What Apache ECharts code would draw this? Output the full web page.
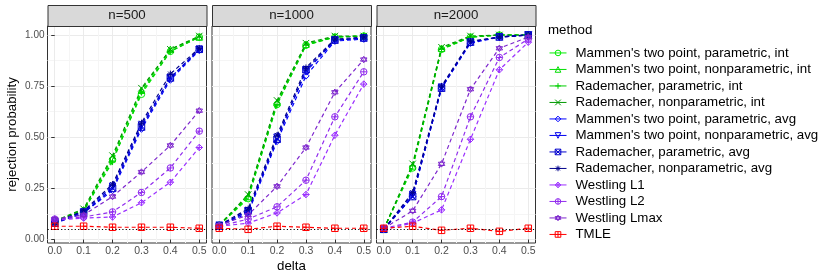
<!DOCTYPE html>
<html><head><meta charset="utf-8">
<script src="https://cdn.jsdelivr.net/npm/echarts@6/dist/echarts.min.js"></script>
<style>html,body{margin:0;padding:0;background:#fff}#c{width:830px;height:277px}</style>
</head><body><div id="c"></div>
<script>
// ---------- data ----------
const deltas = [0, 0.1, 0.2, 0.3, 0.4, 0.5];
const panels = ['n=500', 'n=1000', 'n=2000'];
const methods = [
  "Mammen's two point, parametric, int",
  "Mammen's two point, nonparametric, int",
  "Rademacher, parametric, int",
  "Rademacher, nonparametric, int",
  "Mammen's two point, parametric, avg",
  "Mammen's two point, nonparametric, avg",
  "Rademacher, parametric, avg",
  "Rademacher, nonparametric, avg",
  "Westling L1",
  "Westling L2",
  "Westling Lmax",
  "TMLE"
];
// each: [n=500, n=1000, n=2000], values at deltas
const mammenParInt    = [[0.085,0.14,0.39,0.71,0.92,0.99],[0.07,0.20,0.66,0.95,0.99,0.995],[0.05,0.35,0.93,0.99,1.0,1.0]];
const mammenNonparInt = [[0.09,0.145,0.40,0.73,0.93,0.99],[0.07,0.21,0.67,0.955,0.99,0.995],[0.05,0.36,0.935,0.99,1.0,1.0]];
const radParInt       = [[0.085,0.14,0.38,0.72,0.92,0.99],[0.07,0.21,0.66,0.95,0.99,0.995],[0.05,0.36,0.93,0.99,1.0,1.0]];
const radNonparInt    = [[0.09,0.15,0.41,0.74,0.93,0.995],[0.07,0.22,0.68,0.96,0.995,0.995],[0.05,0.37,0.94,0.995,1.0,1.0]];
const mammenParAvg    = [[0.08,0.13,0.24,0.54,0.78,0.925],[0.065,0.13,0.48,0.80,0.97,0.98],[0.05,0.21,0.74,0.96,0.99,1.0]];
const mammenNonparAvg = [[0.085,0.135,0.26,0.56,0.79,0.93],[0.07,0.14,0.50,0.82,0.975,0.985],[0.05,0.22,0.745,0.965,0.99,1.0]];
const radParAvg       = [[0.08,0.13,0.25,0.55,0.79,0.93],[0.065,0.14,0.49,0.83,0.975,0.985],[0.05,0.21,0.74,0.965,0.99,1.0]];
const radNonparAvg    = [[0.085,0.14,0.27,0.57,0.81,0.935],[0.07,0.15,0.51,0.84,0.98,0.99],[0.05,0.23,0.75,0.97,0.99,1.0]];
const westlingL1      = [[0.095,0.105,0.11,0.18,0.28,0.45],[0.065,0.08,0.13,0.22,0.51,0.76],[0.05,0.08,0.145,0.49,0.83,0.965]];
const westlingL2      = [[0.10,0.11,0.135,0.23,0.35,0.53],[0.065,0.10,0.16,0.29,0.60,0.82],[0.055,0.085,0.21,0.60,0.89,0.98]];
const westlingLmax    = [[0.10,0.12,0.21,0.33,0.46,0.63],[0.07,0.12,0.26,0.45,0.72,0.88],[0.055,0.14,0.37,0.735,0.935,0.99]];
const tmle            = [[0.065,0.065,0.06,0.06,0.06,0.055],[0.055,0.05,0.065,0.06,0.055,0.055],[0.055,0.065,0.045,0.055,0.04,0.055]];
const nominalLevel = 0.05;

const xMajorTicks = [0, 0.1, 0.2, 0.3, 0.4, 0.5];
const xMinorTicks = [0.05, 0.15, 0.25, 0.35, 0.45];
const yMajorTicks = [0, 0.25, 0.5, 0.75, 1];
const yMinorTicks = [0.125, 0.375, 0.625, 0.875];

// ---------- styles ----------
const methodValues = [mammenParInt, mammenNonparInt, radParInt, radNonparInt,
  mammenParAvg, mammenNonparAvg, radParAvg, radNonparAvg,
  westlingL1, westlingL2, westlingLmax, tmle];
const methodColors = ['#00EE00','#00DD00','#00CD00','#009A00',
  '#0000FF','#0000EE','#0000CD','#00008B',
  '#9B30FF','#912CEE','#7D26CD','#FF0000'];
const methodSymbols = [
  'path://M5,0A5,5,0,1,1,5,10A5,5,0,1,1,5,0Z',
  'path://M5,0L10,9L0,9Z',
  'path://M5,0L5,10M0,5L10,5',
  'path://M0,0L10,10M10,0L0,10',
  'path://M5,0L10,5L5,10L0,5Z',
  'path://M0,1L10,1L5,10Z',
  'path://M0,0L10,0L10,10L0,10ZM0,0L10,10M10,0L0,10',
  'path://M5,0L5,10M0,5L10,5M1.5,1.5L8.5,8.5M8.5,1.5L1.5,8.5',
  'path://M5,0L10,5L5,10L0,5ZM5,0L5,10M0,5L10,5',
  'path://M5,0A5,5,0,1,1,5,10A5,5,0,1,1,5,0ZM5,0L5,10M0,5L10,5',
  'path://M5,0L9.33,7.5L0.67,7.5ZM5,10L9.33,2.5L0.67,2.5Z',
  'path://M0,0L10,0L10,10L0,10ZM5,0L5,10M0,5L10,5'
];

const FONT = "'Liberation Sans', Arial, Helvetica, sans-serif";
const BIG = "13.3px 'Liberation Sans', Arial, sans-serif";
const gridLeft = [47.5, 212, 376.5], gridW = 159, gridTop = 26, gridH = 217;
const stripTop = 5, stripH = 21;
const X_MIN = -0.025, X_MAX = 0.525, Y_MIN = -0.017, Y_MAX = 1.044;

const grids = [], xAxes = [], yAxes = [], series = [], graphics = [];

panels.forEach((p, i) => {
  grids.push({left: gridLeft[i], top: gridTop, width: gridW, height: gridH,
    show: true, backgroundColor: '#fff', borderColor: '#333333', borderWidth: 1});
  const xi = xAxes.length, yi = yAxes.length;
  xAxes.push({type: 'value', gridIndex: i, min: X_MIN, max: X_MAX, position: 'bottom',
    axisLine: {show: false},
    axisTick: {show: true, length: 3.5, lineStyle: {color: '#333333', width: 1}, customValues: xMajorTicks},
    axisLabel: {show: true, customValues: xMajorTicks, formatter: v => v.toFixed(1),
      color: '#4D4D4D', fontSize: 10.5, margin: 3, fontFamily: FONT},
    splitLine: {show: true, lineStyle: {color: '#EBEBEB', width: 1}}});
  xAxes.push({type: 'value', gridIndex: i, min: X_MIN, max: X_MAX, position: 'top',
    axisLine: {show: false},
    axisTick: {show: false, customValues: xMinorTicks},
    axisLabel: {show: false, customValues: xMinorTicks},
    splitLine: {show: true, lineStyle: {color: '#F5F5F5', width: 1}}});
  yAxes.push({type: 'value', gridIndex: i, min: Y_MIN, max: Y_MAX, position: 'left',
    axisLine: {show: false},
    axisTick: {show: i === 0, length: 3.5, lineStyle: {color: '#333333', width: 1}, customValues: yMajorTicks},
    axisLabel: {show: i === 0, customValues: yMajorTicks, formatter: v => v.toFixed(2),
      color: '#4D4D4D', fontSize: 10, margin: 3, fontFamily: FONT},
    splitLine: {show: true, lineStyle: {color: '#EBEBEB', width: 1}},
    name: i === 0 ? 'rejection probability' : '', nameLocation: 'middle', nameGap: 29,
    nameTextStyle: {color: '#000', fontSize: 13.3, fontFamily: FONT}});
  yAxes.push({type: 'value', gridIndex: i, min: Y_MIN, max: Y_MAX, position: 'right',
    axisLine: {show: false},
    axisTick: {show: false, customValues: yMinorTicks},
    axisLabel: {show: false, customValues: yMinorTicks},
    splitLine: {show: true, lineStyle: {color: '#F5F5F5', width: 1}}});

  methods.forEach((m, k) => {
    const s = {
      name: m, type: 'line', xAxisIndex: xi, yAxisIndex: yi,
      data: deltas.map((d, j) => [d, methodValues[k][i][j]]),
      symbol: methodSymbols[k], symbolSize: 6.5,
      itemStyle: {color: 'transparent', borderColor: methodColors[k], borderWidth: 1},
      lineStyle: {color: methodColors[k], width: 1.2, type: [4, 3]},
      emphasis: {disabled: true}, silent: true, animation: false, z: 3
    };
    if (k === methods.length - 1) {
      s.markLine = {silent: true, symbol: 'none', animation: false,
        label: {show: false},
        lineStyle: {color: '#000', type: [1.2, 2.2], width: 1},
        data: [{yAxis: nominalLevel}]};
    }
    series.push(s);
  });

  // strip
  graphics.push({type: 'rect', left: gridLeft[i], top: stripTop,
    shape: {width: gridW, height: stripH},
    style: {fill: '#D9D9D9', stroke: '#333333', lineWidth: 1}, z: 10});
  graphics.push({type: 'text', x: gridLeft[i] + gridW / 2, y: stripTop + stripH / 2,
    style: {text: p, fill: '#1A1A1A', font: BIG, textAlign: 'center', textVerticalAlign: 'middle'}, z: 11});
});

graphics.push({type: 'text', x: gridLeft[0] + (gridLeft[2] + gridW - gridLeft[0]) / 2, y: 266,
  style: {text: 'delta', fill: '#000', font: BIG, textAlign: 'center', textVerticalAlign: 'middle'}});
graphics.push({type: 'text', x: 548, y: 30,
  style: {text: 'method', fill: '#000', font: BIG, textAlign: 'left', textVerticalAlign: 'middle'}});

const legendData = methods.map((m, k) => ({
  name: m,
  itemStyle: {color: 'transparent', borderColor: methodColors[k], borderWidth: 1},
  lineStyle: {color: methodColors[k], width: 1, type: 'solid'}
}));

const option = {
  backgroundColor: '#fff',
  animation: false,
  grid: grids, xAxis: xAxes, yAxis: yAxes, series: series, graphic: graphics,
  legend: {
    data: legendData, orient: 'vertical', left: 549, top: 45.7, padding: 0,
    itemWidth: 17, itemHeight: 7, itemGap: 2, selectedMode: false,
    textStyle: {fontSize: 13.3, lineHeight: 14.5, color: '#000', fontFamily: FONT, padding: [0, 0, 0, 4]}
  }
};
const chart = echarts.init(document.getElementById('c'), null, {renderer: 'canvas'});
chart.setOption(option);
</script></body></html>
